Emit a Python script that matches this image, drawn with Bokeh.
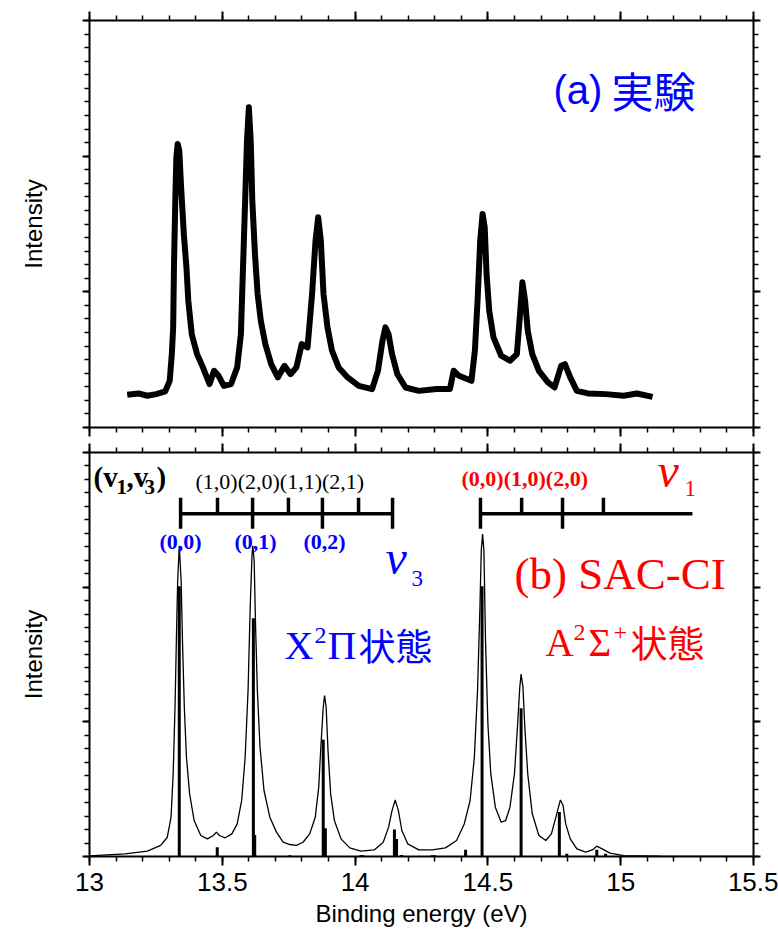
from bokeh.plotting import figure
from bokeh.layouts import column
from bokeh.models import (Range1d, LinearAxis, SingleIntervalTicker, NumeralTickFormatter,
                          CustomJSTickFormatter, Label)
from bokeh.embed import file_html
from bokeh.resources import INLINE

# ---------------- data ----------------
# (a) experimental spectrum (binding energy eV, intensity in arbitrary units)
exp_x = [13.142, 13.184, 13.218, 13.251, 13.285, 13.302, 13.310, 13.315, 13.318, 13.323,
         13.327, 13.332, 13.338, 13.345, 13.355, 13.365, 13.372, 13.385, 13.405, 13.427,
         13.452, 13.469, 13.486, 13.506, 13.533, 13.556, 13.570, 13.576, 13.586, 13.593,
         13.600, 13.607, 13.613, 13.623, 13.633, 13.645, 13.662, 13.684, 13.709, 13.734,
         13.757, 13.779, 13.799, 13.821, 13.838, 13.851, 13.861, 13.871, 13.881, 13.896,
         13.913, 13.938, 13.972, 14.014, 14.064, 14.086, 14.103, 14.114, 14.126, 14.139,
         14.159, 14.190, 14.240, 14.307, 14.357, 14.371, 14.391, 14.438, 14.451, 14.461,
         14.471, 14.480, 14.488, 14.495, 14.505, 14.521, 14.550, 14.583, 14.609, 14.620,
         14.630, 14.640, 14.650, 14.667, 14.692, 14.726, 14.751, 14.776, 14.790, 14.810,
         14.835, 14.877, 14.944, 15.011, 15.061, 15.120]
exp_y = [0.241, 0.251, 0.234, 0.246, 0.266, 0.344, 0.541, 0.738, 1.180, 1.672,
         1.990, 2.090, 2.040, 1.770, 1.430, 1.180, 0.934, 0.688, 0.541, 0.443,
         0.320, 0.418, 0.381, 0.307, 0.320, 0.443, 0.688, 1.057, 1.672, 2.115,
         2.360, 2.115, 1.672, 1.279, 0.984, 0.787, 0.615, 0.467, 0.369, 0.455,
         0.393, 0.443, 0.615, 0.590, 0.984, 1.377, 1.549, 1.377, 0.984, 0.738,
         0.566, 0.443, 0.369, 0.307, 0.283, 0.418, 0.639, 0.738, 0.688, 0.541,
         0.393, 0.295, 0.270, 0.283, 0.283, 0.418, 0.381, 0.344, 0.566, 0.934,
         1.377, 1.574, 1.475, 1.131, 0.861, 0.664, 0.529, 0.492, 0.541, 0.811,
         1.070, 0.934, 0.713, 0.541, 0.418, 0.332, 0.295, 0.455, 0.467, 0.369,
         0.270, 0.251, 0.246, 0.234, 0.251, 0.226]

# (b) SAC-CI broadened spectrum
sac_x = [13.000, 13.134, 13.218, 13.268, 13.293, 13.307, 13.315, 13.322, 13.327, 13.332,
         13.338, 13.345, 13.350, 13.357, 13.365, 13.377, 13.394, 13.419, 13.444, 13.466,
         13.478, 13.489, 13.511, 13.536, 13.556, 13.573, 13.586, 13.597, 13.605, 13.612,
         13.615, 13.620, 13.625, 13.632, 13.642, 13.657, 13.679, 13.704, 13.729, 13.754,
         13.779, 13.804, 13.829, 13.850, 13.863, 13.871, 13.880, 13.885, 13.891, 13.898,
         13.908, 13.922, 13.947, 13.980, 14.022, 14.072, 14.106, 14.126, 14.139, 14.151,
         14.163, 14.176, 14.198, 14.240, 14.290, 14.340, 14.382, 14.411, 14.433, 14.449,
         14.461, 14.470, 14.475, 14.480, 14.485, 14.491, 14.500, 14.511, 14.528, 14.550,
         14.567, 14.583, 14.600, 14.612, 14.620, 14.625, 14.632, 14.639, 14.650, 14.667,
         14.692, 14.718, 14.739, 14.756, 14.773, 14.783, 14.793, 14.810, 14.835, 14.868,
         14.893, 14.910, 14.930, 14.960, 15.011, 15.145, 15.500]
sac_y = [0.005, 0.020, 0.040, 0.082, 0.143, 0.292, 0.613, 1.108, 1.603, 2.048,
         2.308, 2.048, 1.603, 1.108, 0.737, 0.465, 0.267, 0.156, 0.131, 0.156,
         0.181, 0.156, 0.139, 0.168, 0.242, 0.416, 0.737, 1.232, 1.850, 2.246,
         2.308, 2.196, 1.726, 1.232, 0.811, 0.490, 0.292, 0.181, 0.106, 0.089,
         0.082, 0.106, 0.168, 0.292, 0.514, 0.811, 1.108, 1.195, 1.108, 0.787,
         0.465, 0.267, 0.131, 0.064, 0.040, 0.049, 0.106, 0.218, 0.341, 0.420,
         0.341, 0.193, 0.094, 0.049, 0.049, 0.064, 0.119, 0.242, 0.416, 0.737,
         1.232, 1.850, 2.271, 2.394, 2.271, 1.603, 0.984, 0.613, 0.366, 0.255,
         0.267, 0.366, 0.613, 0.984, 1.256, 1.355, 1.256, 0.960, 0.613, 0.317,
         0.156, 0.119, 0.168, 0.292, 0.420, 0.378, 0.242, 0.131, 0.057, 0.032,
         0.049, 0.077, 0.057, 0.025, 0.007, 0.002, 0.000]

# SAC-CI stick spectrum
stick_x = [13.338, 13.481, 13.617, 13.622, 13.754, 13.880, 13.888, 14.022, 14.030,
           14.148, 14.156, 14.175, 14.290, 14.300, 14.416, 14.478, 14.625, 14.769,
           14.797, 14.910, 14.943]
stick_y = [2.006, 0.069, 1.769, 0.160, 0.010, 0.868, 0.210, 0.010, 0.010,
           0.200, 0.130, 0.012, 0.010, 0.010, 0.050, 2.006, 1.100, 0.330,
           0.020, 0.050, 0.020]

# vibrational progressions (ladder positions, eV)
v3_ladder = [13.343, 13.482, 13.614, 13.749, 13.877, 14.013, 14.141]
v3_long = [True, False, True, False, True, False, True]
v3_end = 14.141
v1_ladder = [14.472, 14.627, 14.781, 14.935]
v1_long = [True, False, True, False]
v1_end = 15.270

x_ticks_major = 0.5
x_ticks_minor = 5

# ---------------- helpers ----------------
FL, FR = 89, 753
def X(px):
    return 13 + (px - FL) / ((FR - FL) / 2.5)

def YB(py):
    return (856 - py) / (404.3 / 3)

def YT(py):
    return (427 - py) / (407.0 / 3)

SERIF = "Liberation Serif"
SANS = "Liberation Sans"
CJK = "Noto Sans CJK JP"
BLUE = "#0000ff"
RED = "#ff0000"
KSHIFT = {SERIF: 0.33, SANS: 0.30, CJK: 0.38}


def style_axes(p, bottom_labels):
    p.xgrid.visible = False
    p.ygrid.visible = False
    p.outline_line_color = None
    p.background_fill_color = "white"
    p.border_fill_color = "white"
    xt = SingleIntervalTicker(interval=x_ticks_major, num_minor_ticks=x_ticks_minor)
    yt = SingleIntervalTicker(interval=1, num_minor_ticks=10)
    blank = CustomJSTickFormatter(code="return '';")

    p.add_layout(LinearAxis(ticker=xt), "above")
    p.add_layout(LinearAxis(ticker=yt), "right")
    for ax in list(p.xaxis) + list(p.yaxis):
        ax.axis_line_width = 2
        ax.axis_line_color = "black"
        ax.major_tick_line_color = "black"
        ax.minor_tick_line_color = "black"
        ax.major_tick_line_width = 2
        ax.minor_tick_line_width = 1.5
        ax.major_tick_in = 0
        ax.minor_tick_in = 0
        ax.major_label_text_font_size = "1px"
        ax.major_label_standoff = 0
        ax.formatter = blank
    for ax in p.xaxis:
        ax.ticker = xt
        ax.major_tick_out = 9
        ax.minor_tick_out = 5
    for ax in p.yaxis:
        ax.ticker = yt
        ax.major_tick_out = 7
        ax.minor_tick_out = 5
    left = p.yaxis[0]
    left.axis_label = "Intensity"
    left.axis_label_text_font = SANS
    left.axis_label_text_font_style = "normal"
    left.axis_label_text_font_size = "24px"
    left.axis_label_text_color = "black"
    left.axis_label_standoff = 36
    if bottom_labels:
        b = p.below[0]
        b.major_label_text_font_size = "26px"
        b.major_label_text_font = SANS
        b.major_label_text_color = "black"
        b.major_label_standoff = 7
        b.formatter = NumeralTickFormatter(format="0.[0]")
        b.axis_label = "Binding energy (eV)"
        b.axis_label_text_font = SANS
        b.axis_label_text_font_style = "normal"
        b.axis_label_text_font_size = "24px"
        b.axis_label_text_color = "black"
        b.axis_label_standoff = 6


def lab(p, conv, xpx, ypx, text, size, color="black", font=SERIF, style="normal",
        align="left"):
    # ypx is the visual baseline in pixels; compensate the renderer's baseline offset
    y = conv(ypx - KSHIFT[font] * size)
    p.add_layout(Label(x=X(xpx), y=y, text=text, text_font=font, text_font_size=f"{size}px",
                       text_color=color, text_font_style=style, text_align=align,
                       text_baseline="alphabetic"))


# ---------------- (a) experiment ----------------
p1 = figure(width=778, height=440, output_backend="svg", toolbar_location=None,
            x_range=Range1d(13, 15.5), y_range=Range1d(0, 3),
            min_border_left=89, min_border_right=25, min_border_top=20, min_border_bottom=13)
style_axes(p1, bottom_labels=False)
p1.line(exp_x, exp_y, line_color="black", line_width=6, line_join="round")
lab(p1, YT, 553, 101, "(a)", 40, BLUE, font=SANS)
lab(p1, YT, 611, 105, "実験", 42, BLUE, font=CJK)

# ---------------- (b) SAC-CI ----------------
p2 = figure(width=778, height=499, output_backend="svg", toolbar_location=None,
            x_range=Range1d(13, 15.5), y_range=Range1d(0, 3),
            min_border_left=89, min_border_right=25, min_border_top=12, min_border_bottom=83)
style_axes(p2, bottom_labels=True)

p2.segment(x0=stick_x, y0=[0] * len(stick_x), x1=stick_x, y1=stick_y,
           line_color="black", line_width=3)
p2.line(sac_x, sac_y, line_color="black", line_width=1.3)

# ladders
y_top, y_mid, y_bot = YB(497), YB(513), YB(528)
for lad, longs, end in ((v3_ladder, v3_long, v3_end), (v1_ladder, v1_long, v1_end)):
    p2.segment(x0=[lad[0]], y0=[y_mid], x1=[end], y1=[y_mid], line_color="black", line_width=3.5)
    p2.segment(x0=lad, y0=[y_top] * len(lad), x1=lad,
               y1=[y_bot if lg else y_mid for lg in longs], line_color="black", line_width=3.5)

# (v1,v3) header
lab(p2, YB, 93, 486, "(v", 29, style="bold")
lab(p2, YB, 116, 493, "1", 21, style="bold")
lab(p2, YB, 126, 486, ",v", 29, style="bold")
lab(p2, YB, 144, 493, "3", 21, style="bold")
lab(p2, YB, 156, 486, ")", 29, style="bold")
lab(p2, YB, 195, 488, "(1,0)(2,0)(1,1)(2,1)", 22)

for cx, t in ((180, "(0,0)"), (255, "(0,1)"), (324, "(0,2)")):
    lab(p2, YB, cx, 548, t, 22, BLUE, style="bold", align="center")

lab(p2, YB, 461, 485, "(0,0)(1,0)(2,0)", 22, RED, style="bold")
lab(p2, YB, 657, 486, "v", 48, RED, style="italic")
lab(p2, YB, 684, 495, "1", 23, RED)
lab(p2, YB, 385, 573, "v", 48, BLUE, style="italic")
lab(p2, YB, 411, 585, "3", 23, BLUE)

lab(p2, YB, 514, 588, "(b) SAC-CI", 45, RED)

lab(p2, YB, 284, 658, "X", 40, BLUE)
lab(p2, YB, 314, 643, "2", 24, BLUE)
lab(p2, YB, 327, 658, "Π", 40, BLUE)
lab(p2, YB, 358, 658, "状態", 37, BLUE, font=CJK)

lab(p2, YB, 545, 655, "A", 39, RED)
lab(p2, YB, 573, 640, "2", 24, RED)
lab(p2, YB, 588, 655, "Σ", 39, RED)
lab(p2, YB, 613, 640, "+", 24, RED)
lab(p2, YB, 630, 655, "状態", 37, RED, font=CJK)

layout = column(p1, p2, spacing=0)
open("out.html", "w").write(file_html(layout, INLINE))
